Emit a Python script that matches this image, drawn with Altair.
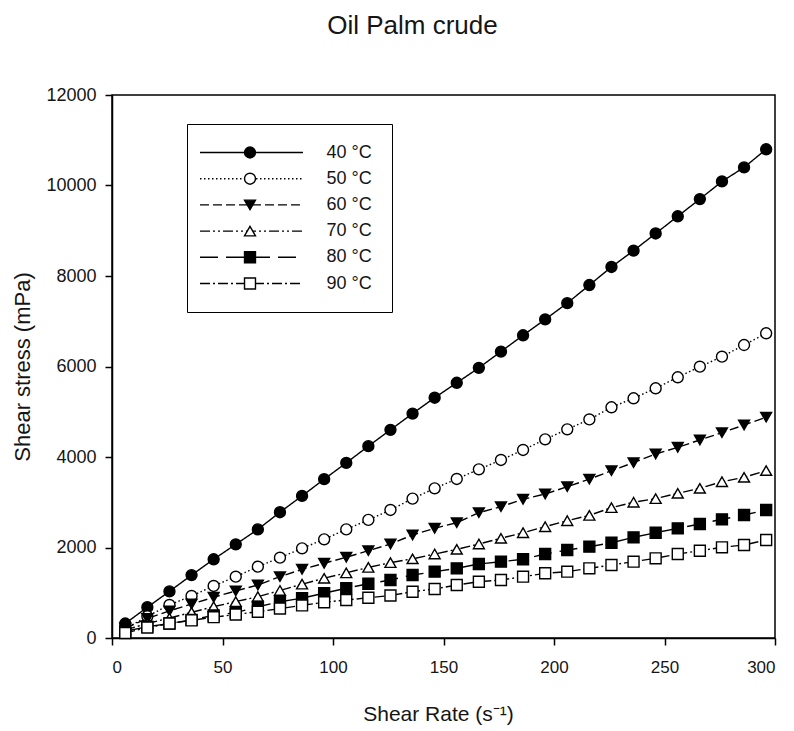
import altair as alt
import pandas as pd

# ---- data ----
shear_rate = [6, 16, 26, 36, 46, 56, 66, 76, 86, 96, 106, 116, 126, 136, 146,
              156, 166, 176, 186, 196, 206, 216, 226, 236, 246, 256, 266, 276, 286, 296]

temperatures = ["40", "50", "60", "70", "80", "90"]
series_labels = ["40 °C", "50 °C", "60 °C", "70 °C", "80 °C", "90 °C"]

stress_40 = [320, 680, 1030, 1390, 1740, 2070, 2400, 2780, 3140, 3510, 3870, 4240, 4600, 4960, 5310,
             5640, 5970, 6330, 6690, 7040, 7400, 7800, 8200, 8560, 8940, 9320, 9700, 10090, 10400, 10800]
stress_50 = [200, 480, 730, 930, 1150, 1355, 1576, 1775, 1982, 2181, 2400, 2610, 2829, 3080, 3308,
             3514, 3728, 3934, 4155, 4391, 4612, 4830, 5099, 5298, 5519, 5762, 5996, 6217, 6475, 6734]
stress_60 = [220, 430, 600, 751, 900, 1040, 1171, 1355, 1518, 1651, 1784, 1930, 2077, 2276, 2424,
             2549, 2770, 2902, 3065, 3182, 3344, 3510, 3698, 3875, 4066, 4214, 4376, 4537, 4707, 4880]
stress_70 = [180, 320, 440, 568, 692, 804, 913, 1050, 1190, 1320, 1440, 1560, 1665, 1750, 1856,
             1960, 2077, 2203, 2327, 2460, 2592, 2710, 2880, 3000, 3080, 3198, 3308, 3454, 3551, 3700]
stress_80 = [150, 250, 320, 400, 500, 560, 690, 800, 880, 990, 1100, 1200, 1282, 1392, 1466,
             1540, 1635, 1687, 1740, 1856, 1945, 2018, 2106, 2225, 2327, 2424, 2519, 2623, 2718, 2829]
stress_90 = [110, 230, 320, 390, 460, 520, 580, 650, 720, 790, 840, 890, 940, 1023, 1083,
             1171, 1244, 1282, 1355, 1430, 1466, 1540, 1613, 1687, 1761, 1856, 1929, 2004, 2055, 2166]

x_ticks = [0, 50, 100, 150, 200, 250, 300]
y_ticks = [0, 2000, 4000, 6000, 8000, 10000, 12000]

# ---- styles ----
dashes = [[1, 0], [1.5, 2.5], [9, 4], [10, 3, 2, 3, 2, 3], [18, 8], [10, 3, 2, 3]]
shapes = ["circle", "circle", "triangle-down", "triangle-up", "square", "square"]
fills = ["black", "white", "black", "white", "black", "white"]
strokes = ["black"] * 6

all_series = [stress_40, stress_50, stress_60, stress_70, stress_80, stress_90]
rows = []
for temp, lab, vals in zip(temperatures, series_labels, all_series):
    for r, v in zip(shear_rate, vals):
        rows.append({"rate": r, "stress": v, "series": lab, "temp": temp})
df = pd.DataFrame(rows)

FONT = "Liberation Sans"
TXT = "#151515"

x_enc = alt.X("rate:Q",
              scale=alt.Scale(domain=[0, 300], nice=False, zero=False),
              axis=alt.Axis(values=x_ticks, title="Shear Rate (s⁻¹)", labelPadding=14,
                            labelFontSize=17, titleFontSize=21, titlePadding=28, titleX=326))
y_enc = alt.Y("stress:Q",
              scale=alt.Scale(domain=[0, 12000], nice=False),
              axis=alt.Axis(values=y_ticks, format="d", title="Shear stress (mPa)",
                            labelPadding=9, titleFontSize=22, titlePadding=11))

leg_lines = alt.Legend(title=None, orient="none", legendX=75, legendY=29, direction="vertical",
                       padding=19.5, symbolType="M-10.3,0L10.3,0", symbolSize=100,
                       symbolStrokeColor="black", symbolStrokeWidth=1.4,
                       symbolFillColor="transparent", symbolOffset=36,
                       labelFontSize=18, labelOpacity=0, rowPadding=8.2, zindex=1)

leg_marks = alt.Legend(title=None, orient="none", legendX=75, legendY=29, direction="vertical",
                       padding=19.5, symbolSize=120, symbolStrokeColor="black",
                       symbolStrokeWidth=1.4, symbolOffset=34.5, labelOffset=67.5,
                       labelFontSize=18, labelFont=FONT, labelColor=TXT, rowPadding=8.2,
                       labelExpr="datum.label + ' °C'",
                       strokeColor="black", zindex=2)

lines = alt.Chart(df).mark_line(color="black", strokeWidth=1.4).encode(
    x=x_enc,
    y=y_enc,
    strokeDash=alt.StrokeDash("series:N", scale=alt.Scale(domain=series_labels, range=dashes),
                              legend=leg_lines),
)

points = alt.Chart(df).mark_point(filled=True, size=120, strokeWidth=1.4, opacity=1).encode(
    x="rate:Q",
    y="stress:Q",
    shape=alt.Shape("temp:N", scale=alt.Scale(domain=temperatures, range=shapes),
                    legend=leg_marks),
    fill=alt.Fill("temp:N", scale=alt.Scale(domain=temperatures, range=fills),
                  legend=leg_marks),
    stroke=alt.Stroke("temp:N", scale=alt.Scale(domain=temperatures, range=strokes),
                      legend=leg_marks),
)

chart = alt.layer(lines, points).properties(
    width=663,
    height=543,
    background="white",
    autosize=alt.AutoSizeParams(type="none"),
    padding={"left": 112, "top": 95, "right": 19, "bottom": 93},
    title=alt.Title("Oil Palm crude", fontSize=26, font=FONT, fontWeight="normal",
                    color=TXT, anchor="middle", frame="group", dx=-31, offset=47),
).configure_view(
    stroke="black", strokeWidth=1.5
).configure_axis(
    grid=False, domainColor="black", tickColor="black", domainWidth=1.5, tickWidth=1.5,
    tickSize=7, labelFont=FONT, titleFont=FONT, labelFontSize=18, titleFontSize=20,
    labelColor=TXT, titleColor=TXT, titleFontWeight="normal"
)

chart.save("out.html", embed_options={"renderer": "svg", "actions": False})
